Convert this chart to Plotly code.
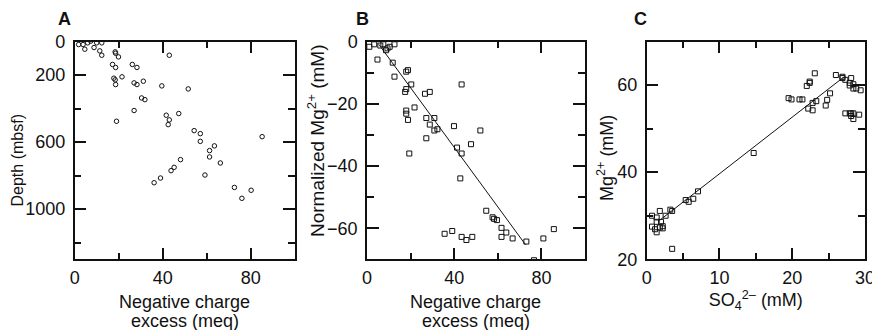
import plotly.graph_objects as go

# ---------------- data ----------------
# Panel A: negative charge excess (meq) vs depth (mbsf)
a_x = [1.8, 3.8, 4.6, 5.9, 7.3, 8.8, 10.0, 11.4, 12.3, 12.3, 18.4, 18.6, 19.9, 17.2, 18.6,
       26.2, 28.3, 43.0, 17.8, 18.4, 21.5, 18.6, 27.0, 28.3, 31.2, 39.6, 51.6, 30.4, 31.9,
       27.0, 19.0, 41.6, 47.3, 43.0, 42.5, 54.3, 57.1, 57.1, 85.2, 63.5, 61.3, 61.3, 66.2,
       48.1, 45.2, 43.8, 39.0, 36.1, 59.2, 72.6, 80.2, 76.0]
a_depth = [18, 18, 46, 8, -2, 36, 8, 56, 8, 82, 62, 70, 92, 137, 155,
           137, 155, 82, 219, 229, 211, 257, 247, 257, 237, 265, 283, 337, 347,
           412, 476, 440, 430, 468, 496, 532, 550, 596, 568, 623, 651, 689, 725,
           705, 751, 771, 815, 843, 797, 871, 888, 936]
a_depth_ticks = [0, 200, 600, 1000]

# Panel B: negative charge excess (meq) vs normalized Mg2+ (mM)
b_x = [1.07, 3.3, 4.8, 6.1, 7.5, 8.7, 9.4, 10.4, 12.6, 11.8, 12.6, 18.0, 18.8, 20.3, 18.0,
       17.5, 26.6, 28.8, 43.4, 21.8, 18.0, 18.0, 18.8, 27.2, 30.9, 28.8, 32.3, 30.9, 39.9,
       52.0, 27.2, 19.4, 47.7, 41.3, 43.4, 42.8, 54.7, 57.6, 58.3, 59.6, 61.7, 63.9, 61.7,
       66.8, 73.1, 35.6, 39.1, 43.4, 45.6, 48.3, 76.6, 80.9, 85.7]
b_mg = [-1.7, -0.9, -5.8, -1.3, -0.9, -2.8, -2.2, -1.7, -0.9, -6.8, -11.3, -9.7, -9.2, -13.8, -15.3,
        -16.2, -16.8, -16.2, -13.8, -21.2, -22.2, -23.2, -25.2, -24.6, -24.6, -26.7, -28.2, -28.6, -27.2,
        -28.6, -31.1, -36.0, -33.0, -34.1, -36.0, -44.0, -54.4, -56.5, -57.0, -57.4, -59.9, -61.4, -62.8,
        -63.3, -64.3, -61.8, -60.9, -62.8, -63.8, -62.8, -70.3, -63.3, -60.3]
b_fit_x = [5.4, 72.7]
b_fit_y = [-0.9, -65.3]

# Panel C: SO4 2- (mM) vs Mg2+ (mM)
c_so4 = [0.73, 1.37, 1.8, 1.37, 1.97, 0.73, 1.15, 1.37, 1.8, 2.2, 2.2, 2.6, 3.25, 3.5, 3.5,
         5.36, 5.77, 6.4, 7.05, 14.7, 19.5, 19.9, 21.0, 21.4, 22.0, 22.4, 22.4, 23.1, 22.2,
         22.8, 22.8, 23.3, 24.6, 24.8, 25.2, 26.0, 26.9, 26.9, 27.3, 27.9, 28.1, 27.9, 28.4,
         28.4, 28.8, 29.4, 27.3, 27.9, 28.1, 28.4, 28.1, 28.4, 29.2]
c_mg = [30.0, 29.6, 31.1, 28.6, 28.6, 27.5, 26.9, 26.2, 27.3, 27.6, 27.1, 30.0, 31.4, 31.1, 22.4,
        33.6, 33.2, 33.9, 35.6, 44.4, 57.0, 56.7, 56.7, 56.7, 59.8, 60.5, 60.8, 62.7, 54.6,
        54.2, 55.9, 56.3, 55.3, 56.6, 58.1, 62.3, 61.9, 61.6, 61.2, 60.5, 61.6, 59.9, 60.2,
        59.2, 59.2, 58.8, 53.5, 53.5, 53.5, 53.5, 52.9, 52.2, 53.2]
c_fit_x = [1.74, 26.9]
c_fit_y = [28.9, 61.6]

# ---------------- figure ----------------
W, H = 872, 330
FONT = "Liberation Sans, Arial, Helvetica, sans-serif"
INK = "#111111"

def px(x):
    return x / W

def py(y):
    return 1 - y / H

fig = go.Figure()
fig.add_trace(go.Scatter(x=a_x, y=a_depth, mode="markers", xaxis="x", yaxis="y",
                         marker=dict(symbol="circle-open", size=4.5, color=INK, line=dict(width=1, color=INK))))
fig.add_trace(go.Scatter(x=b_x, y=b_mg, mode="markers", xaxis="x2", yaxis="y2",
                         marker=dict(symbol="square-open", size=5, color=INK, line=dict(width=1, color=INK))))
fig.add_trace(go.Scatter(x=b_fit_x, y=b_fit_y, mode="lines", xaxis="x2", yaxis="y2",
                         line=dict(color=INK, width=1)))
fig.add_trace(go.Scatter(x=c_so4, y=c_mg, mode="markers", xaxis="x3", yaxis="y3",
                         marker=dict(symbol="square-open", size=5, color=INK, line=dict(width=1, color=INK))))
fig.add_trace(go.Scatter(x=c_fit_x, y=c_fit_y, mode="lines", xaxis="x3", yaxis="y3",
                         line=dict(color=INK, width=1)))

ydom = [py(259.3), py(41.5)]
doms = [[px(74.7), px(294.7)], [px(367), px(585)], [px(646.7), px(865)]]

def ax(**kw):
    base = dict(showgrid=False, zeroline=False, showline=True, linecolor=INK, linewidth=1.5,
                mirror="allticks", ticks="inside", ticklen=12, tickwidth=1.5, tickcolor=INK,
                tickfont=dict(family=FONT, size=18, color=INK), automargin=False,
                ticklabeloverflow="allow", tickangle=0)
    base.update(kw)
    return base

def mnr(d):
    return dict(dtick=d, tick0=0, ticklen=7, tickwidth=1.5, tickcolor=INK, ticks="inside")

fig.update_layout(
    width=W, height=H, margin=dict(l=0, r=0, t=0, b=0),
    paper_bgcolor="white", plot_bgcolor="white", showlegend=False,
    xaxis=ax(domain=doms[0], range=[0, 100], tickmode="linear", tick0=0, dtick=40, anchor="y",
             ticklabelstandoff=1, minor=mnr(20)),
    yaxis=ax(domain=ydom, range=[1300, 0], tickmode="array", tickvals=a_depth_ticks, anchor="x",
             ticklabelstandoff=4, minor=mnr(200)),
    xaxis2=ax(domain=doms[1], range=[0, 100], tickmode="linear", tick0=0, dtick=40, anchor="y2",
              ticklabelstandoff=1, minor=mnr(20)),
    yaxis2=ax(domain=ydom, range=[-70, 0], tickmode="linear", tick0=0, dtick=20, anchor="x2",
              ticklabelstandoff=4, minor=mnr(10)),
    xaxis3=ax(domain=doms[2], range=[0, 30], tickmode="linear", tick0=0, dtick=10, anchor="y3",
              ticklabelstandoff=1, minor=mnr(5),
              title=dict(text="SO<sub>4</sub><sup>2\u2013</sup> (mM)", standoff=0,
                         font=dict(family=FONT, size=18, color=INK))),
    yaxis3=ax(domain=ydom, range=[20, 70], tickmode="linear", tick0=0, dtick=20, anchor="x3",
              ticklabelstandoff=4, minor=mnr(10)),
)

def tf(size=18):
    return dict(family=FONT, size=size, color=INK)

ann = []
for letter, xc in (("A", 64.5), ("B", 362.5), ("C", 640)):
    ann.append(dict(text="<b>%s</b>" % letter, x=px(xc), y=py(19.5), xref="paper", yref="paper",
                    xanchor="center", yanchor="middle", showarrow=False, font=tf()))
for d in doms[:2]:
    xc = (d[0] + d[1]) / 2
    ann.append(dict(text="Negative charge", x=xc, y=py(301.5), xref="paper", yref="paper",
                    xanchor="center", yanchor="middle", showarrow=False, font=tf()))
    ann.append(dict(text="excess (meq)", x=xc, y=py(321), xref="paper", yref="paper",
                    xanchor="center", yanchor="middle", showarrow=False, font=tf()))
ann.append(dict(text="Depth (mbsf)", x=px(17.5), y=py(161), xref="paper", yref="paper",
                xanchor="center", yanchor="middle", textangle=-90, showarrow=False, font=tf(16)))
ann.append(dict(text="Normalized Mg<sup>2+</sup> (mM)", x=px(316), y=py(141), xref="paper", yref="paper",
                xanchor="center", yanchor="middle", textangle=-90, showarrow=False, font=tf(19)))
ann.append(dict(text="Mg<sup>2+</sup> (mM)", x=px(605), y=py(158), xref="paper", yref="paper",
                xanchor="center", yanchor="middle", textangle=-90, showarrow=False, font=tf(18)))
fig.update_layout(annotations=ann)

fig.write_html("out.html")
